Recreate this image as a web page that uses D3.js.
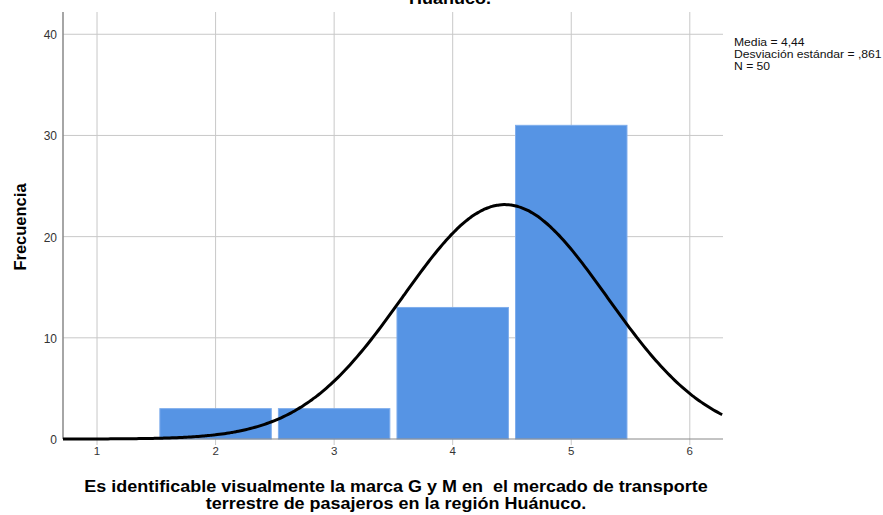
<!DOCTYPE html>
<html>
<head>
<meta charset="utf-8">
<script src="https://cdn.jsdelivr.net/npm/d3@7"></script>
<style>
  body { margin: 0; background: #fff; }
  svg { display: block; font-family: "Liberation Sans", Arial, sans-serif; }
</style>
</head>
<body>
<div id="chart"></div>
<script>
// Histogram data (SPSS output)
const categories = [2, 3, 4, 5];
const counts = [3, 3, 13, 31];
const xTicks = [1, 2, 3, 4, 5, 6];
const yTicks = [0, 10, 20, 30, 40];
const stats = { mean: 4.44, sd: 0.861, n: 50 };
const legendLines = ["Media = 4,44", "Desviación estándar = ,861", "N = 50"];

const W = 883, H = 515;
const margin = { top: 12, right: 160, bottom: 76, left: 63 };
const plotW = W - margin.left - margin.right;
const plotH = H - margin.top - margin.bottom;

const svg = d3.select("#chart").append("svg")
    .attr("width", W)
    .attr("height", H);

const g = svg.append("g")
    .attr("transform", `translate(${margin.left},${margin.top})`);

const x = d3.scaleLinear().domain([0.713, 6.28]).range([0, plotW]);
const y = d3.scaleLinear().domain([0, 42.2]).range([plotH, 0]);

// Grid lines
g.selectAll(".vgrid").data(xTicks).enter().append("line")
    .attr("x1", d => x(d)).attr("x2", d => x(d))
    .attr("y1", 0).attr("y2", plotH + 6)
    .attr("stroke", "#c8c8c8").attr("stroke-width", 1);
g.selectAll(".hgrid").data(yTicks.slice(1)).enter().append("line")
    .attr("x1", 0).attr("x2", plotW)
    .attr("y1", d => y(d)).attr("y2", d => y(d))
    .attr("stroke", "#c8c8c8").attr("stroke-width", 1);

// Bars
const halfW = 0.47;
g.selectAll(".bar").data(categories).enter().append("rect")
    .attr("x", d => x(d - halfW))
    .attr("width", d => x(d + halfW) - x(d - halfW))
    .attr("y", (d, i) => y(counts[i]))
    .attr("height", (d, i) => y(0) - y(counts[i]))
    .attr("fill", "#5694e4")
    .attr("stroke", "#7eadec")
    .attr("stroke-width", 1);

// Axes lines
g.append("line").attr("x1", 0).attr("x2", plotW)
    .attr("y1", plotH).attr("y2", plotH)
    .attr("stroke", "#888").attr("stroke-width", 1);
g.append("line").attr("x1", 0).attr("x2", 0)
    .attr("y1", 0).attr("y2", plotH)
    .attr("stroke", "#888").attr("stroke-width", 1.5);

// Normal curve fitted from mean / sd / n
const pdf = v => stats.n / (stats.sd * Math.sqrt(2 * Math.PI)) *
    Math.exp(-0.5 * Math.pow((v - stats.mean) / stats.sd, 2));
const curveX = d3.range(0.713, 6.2801, 0.02);
const line = d3.line().x(d => x(d)).y(d => y(pdf(d))).curve(d3.curveBasis);
g.append("path").datum(curveX)
    .attr("d", line)
    .attr("fill", "none")
    .attr("stroke", "#000")
    .attr("stroke-width", 3);

// Tick labels
g.selectAll(".xlab").data(xTicks).enter().append("text")
    .attr("x", d => x(d)).attr("y", plotH + 16)
    .attr("text-anchor", "middle")
    .attr("font-size", 11.5).attr("fill", "#333")
    .text(d => d);
g.selectAll(".ylab").data(yTicks).enter().append("text")
    .attr("x", -6).attr("y", d => y(d) + 5)
    .attr("text-anchor", "end")
    .attr("font-size", 12).attr("fill", "#333")
    .text(d => d);

// Titles (source image is slightly stretched horizontally)
svg.append("g").attr("transform", "translate(450,4) scale(1.09,1)")
  .append("text")
    .attr("text-anchor", "middle")
    .attr("font-size", 16.5).attr("font-weight", "bold")
    .text("Huánuco.");

svg.append("text")
    .attr("transform", "translate(26,227) rotate(-90)")
    .attr("text-anchor", "middle")
    .attr("font-size", 16.5).attr("font-weight", "bold")
    .text("Frecuencia");

const xt = svg.append("g").attr("transform", "translate(396,0) scale(1.09,1)")
  .append("text")
    .attr("text-anchor", "middle")
    .style("white-space", "pre")
    .attr("font-size", 16.5).attr("font-weight", "bold");
xt.append("tspan").attr("x", 0).attr("y", 492.5)
    .text("Es identificable visualmente la marca G y M en  el mercado de transporte");
xt.append("tspan").attr("x", 0).attr("y", 509.5)
    .text("terrestre de pasajeros en la región Huánuco.");

// Stats legend
svg.append("g").attr("transform", "translate(734,0) scale(1.17,1)")
  .selectAll("text").data(legendLines).enter().append("text")
    .attr("x", 0).attr("y", (d, i) => 46.5 + i * 11.8)
    .attr("font-size", 10.4).attr("fill", "#111")
    .text(d => d);
</script>
</body>
</html>
